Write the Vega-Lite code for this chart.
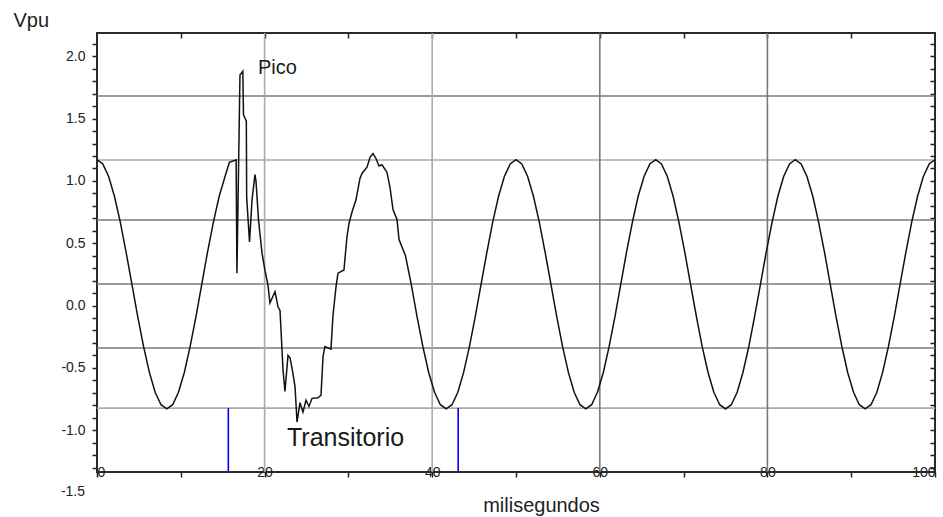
{
  "$schema": "https://vega.github.io/schema/vega-lite/v6.json",
  "width": 838,
  "height": 439,
  "autosize": {"type": "none"},
  "padding": {"left": 97, "top": 33, "right": 8, "bottom": 45},
  "background": "white",
  "config": {
    "view": {"stroke": "#2a2a2a", "strokeWidth": 2},
    "font": "Liberation Sans",
    "axis": {"labelFont": "Liberation Sans", "titleFont": "Liberation Sans", "grid": false, "domain": false}
  },
  "datasets": {
    "wave": [
      {"t": 0, "v": 1.17}, {"t": 0.69, "v": 1.136}, {"t": 1.39, "v": 1.036}, {"t": 2.08, "v": 0.877},
      {"t": 2.78, "v": 0.67}, {"t": 3.47, "v": 0.429}, {"t": 4.17, "v": 0.17}, {"t": 4.86, "v": -0.089},
      {"t": 5.56, "v": -0.33}, {"t": 6.25, "v": -0.537}, {"t": 6.94, "v": -0.696}, {"t": 7.64, "v": -0.796},
      {"t": 8.33, "v": -0.83}, {"t": 9.03, "v": -0.796}, {"t": 9.72, "v": -0.696}, {"t": 10.42, "v": -0.537},
      {"t": 11.11, "v": -0.33}, {"t": 11.81, "v": -0.089}, {"t": 12.5, "v": 0.17}, {"t": 13.19, "v": 0.429},
      {"t": 13.89, "v": 0.67}, {"t": 14.58, "v": 0.877}, {"t": 15.28, "v": 1.036}, {"t": 15.8, "v": 1.15},
      {"t": 16.6, "v": 1.17}, {"t": 16.7, "v": 0.26}, {"t": 17.06, "v": 1.85}, {"t": 17.4, "v": 1.88},
      {"t": 17.48, "v": 1.53}, {"t": 17.82, "v": 1.48}, {"t": 17.86, "v": 0.87}, {"t": 18.2, "v": 0.51},
      {"t": 18.5, "v": 0.85}, {"t": 18.85, "v": 1.05}, {"t": 18.97, "v": 1.0}, {"t": 19.27, "v": 0.69},
      {"t": 19.69, "v": 0.42}, {"t": 20.05, "v": 0.28}, {"t": 20.4, "v": 0.165}, {"t": 20.64, "v": 0.02},
      {"t": 21.24, "v": 0.11}, {"t": 21.6, "v": -0.01}, {"t": 21.84, "v": -0.04}, {"t": 22.2, "v": -0.52},
      {"t": 22.43, "v": -0.69}, {"t": 22.79, "v": -0.4}, {"t": 23.03, "v": -0.42}, {"t": 23.27, "v": -0.5},
      {"t": 23.63, "v": -0.65}, {"t": 23.87, "v": -0.935}, {"t": 24.22, "v": -0.78}, {"t": 24.58, "v": -0.855},
      {"t": 24.94, "v": -0.76}, {"t": 25.3, "v": -0.81}, {"t": 25.66, "v": -0.745}, {"t": 26.37, "v": -0.74},
      {"t": 26.73, "v": -0.72}, {"t": 26.97, "v": -0.41}, {"t": 27.2, "v": -0.33}, {"t": 27.92, "v": -0.35},
      {"t": 28.16, "v": -0.08}, {"t": 28.52, "v": 0.15}, {"t": 28.76, "v": 0.26}, {"t": 29.47, "v": 0.285},
      {"t": 29.83, "v": 0.55}, {"t": 30.07, "v": 0.66}, {"t": 30.43, "v": 0.75}, {"t": 30.91, "v": 0.85},
      {"t": 31.38, "v": 1.02}, {"t": 31.62, "v": 1.06}, {"t": 32.22, "v": 1.11}, {"t": 32.58, "v": 1.19},
      {"t": 32.94, "v": 1.22}, {"t": 33.29, "v": 1.18}, {"t": 33.65, "v": 1.12}, {"t": 34.0, "v": 1.13},
      {"t": 34.6, "v": 1.07}, {"t": 34.96, "v": 0.95}, {"t": 35.32, "v": 0.77}, {"t": 35.8, "v": 0.69},
      {"t": 36.04, "v": 0.53}, {"t": 36.81, "v": 0.4}, {"t": 37.5, "v": 0.17}, {"t": 38.19, "v": -0.089},
      {"t": 38.89, "v": -0.33}, {"t": 39.58, "v": -0.537}, {"t": 40.28, "v": -0.696}, {"t": 40.97, "v": -0.796},
      {"t": 41.67, "v": -0.83}, {"t": 42.36, "v": -0.796}, {"t": 43.06, "v": -0.696}, {"t": 43.75, "v": -0.537},
      {"t": 44.44, "v": -0.33}, {"t": 45.14, "v": -0.089}, {"t": 45.83, "v": 0.17}, {"t": 46.53, "v": 0.429},
      {"t": 47.22, "v": 0.67}, {"t": 47.92, "v": 0.877}, {"t": 48.61, "v": 1.036}, {"t": 49.31, "v": 1.136},
      {"t": 50, "v": 1.17}, {"t": 50.69, "v": 1.136}, {"t": 51.39, "v": 1.036}, {"t": 52.08, "v": 0.877},
      {"t": 52.78, "v": 0.67}, {"t": 53.47, "v": 0.429}, {"t": 54.17, "v": 0.17}, {"t": 54.86, "v": -0.089},
      {"t": 55.56, "v": -0.33}, {"t": 56.25, "v": -0.537}, {"t": 56.94, "v": -0.696}, {"t": 57.64, "v": -0.796},
      {"t": 58.33, "v": -0.83}, {"t": 59.03, "v": -0.796}, {"t": 59.72, "v": -0.696}, {"t": 60.42, "v": -0.537},
      {"t": 61.11, "v": -0.33}, {"t": 61.81, "v": -0.089}, {"t": 62.5, "v": 0.17}, {"t": 63.19, "v": 0.429},
      {"t": 63.89, "v": 0.67}, {"t": 64.58, "v": 0.877}, {"t": 65.28, "v": 1.036}, {"t": 65.97, "v": 1.136},
      {"t": 66.67, "v": 1.17}, {"t": 67.36, "v": 1.136}, {"t": 68.06, "v": 1.036}, {"t": 68.75, "v": 0.877},
      {"t": 69.44, "v": 0.67}, {"t": 70.14, "v": 0.429}, {"t": 70.83, "v": 0.17}, {"t": 71.53, "v": -0.089},
      {"t": 72.22, "v": -0.33}, {"t": 72.92, "v": -0.537}, {"t": 73.61, "v": -0.696}, {"t": 74.31, "v": -0.796},
      {"t": 75, "v": -0.83}, {"t": 75.69, "v": -0.796}, {"t": 76.39, "v": -0.696}, {"t": 77.08, "v": -0.537},
      {"t": 77.78, "v": -0.33}, {"t": 78.47, "v": -0.089}, {"t": 79.17, "v": 0.17}, {"t": 79.86, "v": 0.429},
      {"t": 80.56, "v": 0.67}, {"t": 81.25, "v": 0.877}, {"t": 81.94, "v": 1.036}, {"t": 82.64, "v": 1.136},
      {"t": 83.33, "v": 1.17}, {"t": 84.03, "v": 1.136}, {"t": 84.72, "v": 1.036}, {"t": 85.42, "v": 0.877},
      {"t": 86.11, "v": 0.67}, {"t": 86.81, "v": 0.429}, {"t": 87.5, "v": 0.17}, {"t": 88.19, "v": -0.089},
      {"t": 88.89, "v": -0.33}, {"t": 89.58, "v": -0.537}, {"t": 90.28, "v": -0.696}, {"t": 90.97, "v": -0.796},
      {"t": 91.67, "v": -0.83}, {"t": 92.36, "v": -0.796}, {"t": 93.06, "v": -0.696}, {"t": 93.75, "v": -0.537},
      {"t": 94.44, "v": -0.33}, {"t": 95.14, "v": -0.089}, {"t": 95.83, "v": 0.17}, {"t": 96.53, "v": 0.429},
      {"t": 97.22, "v": 0.67}, {"t": 97.92, "v": 0.877}, {"t": 98.61, "v": 1.036}, {"t": 99.31, "v": 1.136},
      {"t": 100, "v": 1.17}
    ],
    "gridDark": [{"v": 1.681}, {"v": 0.686}, {"v": 0.173}, {"v": -0.341}],
    "gridLight": [{"v": 1.168}, {"v": -0.823}],
    "gridXLight": [{"t": 20}, {"t": 40}],
    "gridXDark": [{"t": 60}, {"t": 80}],
    "markers": [{"t": 15.67, "top": -0.823, "bottom": -1.336}, {"t": 43.1, "top": -0.823, "bottom": -1.336}],
    "notes": [{"t": 19.2, "v": 1.906, "label": "Pico"}, {"t": 22.67, "v": -1.063, "label": "Transitorio"}],
    "lowLabel": [{"v": -1.5, "label": "-1.5"}]
  },
  "resolve": {"axis": {"x": "independent", "y": "independent"}},
  "layer": [
    {
      "data": {"name": "gridDark"},
      "mark": {"type": "rule", "stroke": "#7a7a7a", "strokeWidth": 1.6},
      "encoding": {
        "y": {
          "field": "v", "type": "quantitative",
          "scale": {"domain": [-1.336, 2.187], "nice": false, "zero": false},
          "axis": {
            "orient": "left",
            "values": [-1.3, -1.2, -1.1, -1.0, -0.9, -0.8, -0.7, -0.6, -0.5, -0.4, -0.3, -0.2, -0.1, 0, 0.1, 0.2, 0.3, 0.4, 0.5, 0.6, 0.7, 0.8, 0.9, 1.0, 1.1, 1.2, 1.3, 1.4, 1.5, 1.6, 1.7, 1.8, 1.9, 2.0, 2.1],
            "labelExpr": "round(datum.value * 10) % 5 == 0 ? (datum.value < 0 ? '-' : '') + format(abs(datum.value), '.1f') : ''",
            "tickSize": 5, "tickWidth": 1.5, "tickColor": "#222",
            "labelFontSize": 14, "labelColor": "#222", "labelPadding": 7, "labelOverlap": false, "labelFlush": false,
            "title": "Vpu", "titleAngle": 0, "titleX": -84, "titleY": -13, "titleAlign": "left", "titleBaseline": "middle",
            "titleFontSize": 20, "titleFontWeight": "normal", "titleColor": "#222"
          }
        }
      }
    },
    {
      "data": {"name": "gridLight"},
      "mark": {"type": "rule", "stroke": "#ababab", "strokeWidth": 1.6},
      "encoding": {"y": {"field": "v", "type": "quantitative", "scale": {"domain": [-1.336, 2.187], "nice": false, "zero": false}, "axis": null}}
    },
    {
      "data": {"name": "gridXLight"},
      "mark": {"type": "rule", "stroke": "#ababab", "strokeWidth": 1.6},
      "encoding": {
        "x": {
          "field": "t", "type": "quantitative",
          "scale": {"domain": [0, 100], "nice": false, "zero": false},
          "axis": {"orient": "top", "values": [10, 20, 30, 40, 50, 60, 70, 80, 90], "tickSize": -5, "tickWidth": 1.5, "tickColor": "#222", "labels": false, "title": null}
        }
      }
    },
    {
      "data": {"name": "gridXDark"},
      "mark": {"type": "rule", "stroke": "#7a7a7a", "strokeWidth": 1.6},
      "encoding": {"x": {"field": "t", "type": "quantitative", "scale": {"domain": [0, 100], "nice": false, "zero": false}, "axis": null}}
    },
    {
      "data": {"name": "markers"},
      "mark": {"type": "rule", "stroke": "#0000ff", "strokeWidth": 1.6},
      "encoding": {
        "x": {"field": "t", "type": "quantitative", "scale": {"domain": [0, 100], "nice": false, "zero": false}, "axis": null},
        "y": {"field": "top", "type": "quantitative", "scale": {"domain": [-1.336, 2.187], "nice": false, "zero": false}, "axis": null},
        "y2": {"field": "bottom"}
      }
    },
    {
      "data": {"name": "wave"},
      "mark": {"type": "line", "stroke": "#111111", "strokeWidth": 1.5},
      "encoding": {
        "x": {
          "field": "t", "type": "quantitative",
          "scale": {"domain": [0, 100], "nice": false, "zero": false},
          "axis": {
            "orient": "bottom",
            "values": [0, 10, 20, 30, 40, 50, 60, 70, 80, 90, 100],
            "labelExpr": "datum.value % 20 == 0 ? datum.label : ''",
            "tickSize": 5, "tickWidth": 1.5, "tickColor": "#222",
            "labelPadding": -5, "labelBaseline": "middle", "labelFlush": true, "labelOverlap": false,
            "labelFontSize": 14, "labelColor": "#222",
            "title": "milisegundos", "titleX": 444, "titleY": 33, "titleAlign": "center", "titleBaseline": "middle",
            "titleFontSize": 20, "titleFontWeight": "normal", "titleColor": "#222"
          }
        },
        "y": {
          "field": "v", "type": "quantitative",
          "scale": {"domain": [-1.336, 2.187], "nice": false, "zero": false},
          "axis": {
            "orient": "right",
            "values": [-1.3, -1.2, -1.1, -1.0, -0.9, -0.8, -0.7, -0.6, -0.5, -0.4, -0.3, -0.2, -0.1, 0, 0.1, 0.2, 0.3, 0.4, 0.5, 0.6, 0.7, 0.8, 0.9, 1.0, 1.1, 1.2, 1.3, 1.4, 1.5, 1.6, 1.7, 1.8, 1.9, 2.0, 2.1],
            "tickSize": -5, "tickWidth": 1.5, "tickColor": "#222", "labels": false, "title": null
          }
        }
      }
    },
    {
      "data": {"name": "notes"},
      "transform": [{"filter": "datum.label == 'Pico'"}],
      "mark": {"type": "text", "align": "left", "baseline": "middle", "fontSize": 20, "color": "#1a1a1a"},
      "encoding": {
        "x": {"field": "t", "type": "quantitative", "scale": {"domain": [0, 100], "nice": false, "zero": false}, "axis": null},
        "y": {"field": "v", "type": "quantitative", "scale": {"domain": [-1.336, 2.187], "nice": false, "zero": false}, "axis": null},
        "text": {"field": "label"}
      }
    },
    {
      "data": {"name": "notes"},
      "transform": [{"filter": "datum.label == 'Transitorio'"}],
      "mark": {"type": "text", "align": "left", "baseline": "middle", "fontSize": 25, "color": "#1a1a1a"},
      "encoding": {
        "x": {"field": "t", "type": "quantitative", "scale": {"domain": [0, 100], "nice": false, "zero": false}, "axis": null},
        "y": {"field": "v", "type": "quantitative", "scale": {"domain": [-1.336, 2.187], "nice": false, "zero": false}, "axis": null},
        "text": {"field": "label"}
      }
    },
    {
      "data": {"name": "lowLabel"},
      "mark": {"type": "text", "align": "right", "baseline": "middle", "fontSize": 14, "dx": -12, "color": "#222"},
      "encoding": {
        "x": {"datum": 0, "type": "quantitative", "scale": {"domain": [0, 100], "nice": false, "zero": false}, "axis": null},
        "y": {"field": "v", "type": "quantitative", "scale": {"domain": [-1.336, 2.187], "nice": false, "zero": false}, "axis": null},
        "text": {"field": "label"}
      }
    }
  ]
}
